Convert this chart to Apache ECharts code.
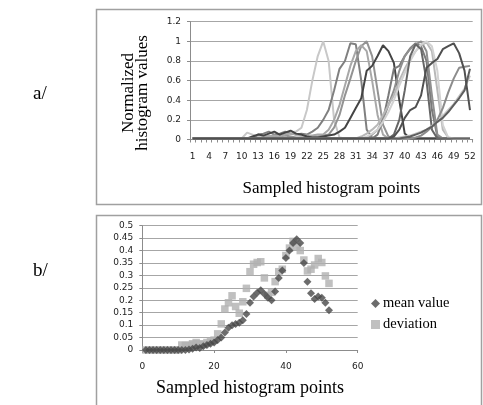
<!DOCTYPE html>
<html>
<head>
<meta charset="utf-8">
<script src="https://cdn.jsdelivr.net/npm/echarts@6/dist/echarts.min.js"></script>
<style>
  html, body { margin: 0; padding: 0; background: #fff; }
  #chart { width: 483px; height: 405px; }
</style>
</head>
<body>
<div id="chart"></div>
<script>
// sampled histogram points (x positions, 1..52)
const samplePoints = [
  1, 2, 3, 4, 5, 6, 7, 8, 9, 10, 11, 12, 13,
  14, 15, 16, 17, 18, 19, 20, 21, 22, 23, 24, 25, 26,
  27, 28, 29, 30, 31, 32, 33, 34, 35, 36, 37, 38, 39,
  40, 41, 42, 43, 44, 45, 46, 47, 48, 49, 50, 51, 52
]
const categories = samplePoints.map(String)

// a/ normalized histograms, one array per histogram
const hist25 = [
  0.01, 0.01, 0.01, 0.01, 0.01, 0.01, 0.01, 0.01, 0.01, 0.01, 0.07, 0.05, 0.03,
  0.03, 0.04, 0.03, 0.04, 0.05, 0.08, 0.08, 0.12, 0.3, 0.6, 0.85, 1.0, 0.8,
  0.2, 0.02, 0.01, 0.01, 0.01, 0.01, 0.01, 0.01, 0.01, 0.01, 0.01, 0.01, 0.01,
  0.01, 0.01, 0.01, 0.01, 0.01, 0.01, 0.01, 0.01, 0.01, 0.01, 0.01, 0.01, 0.01
]
const hist30 = [
  0.01, 0.01, 0.01, 0.01, 0.01, 0.01, 0.01, 0.01, 0.01, 0.01, 0.01, 0.01, 0.05,
  0.06, 0.08, 0.05, 0.06, 0.08, 0.06, 0.05, 0.06, 0.05, 0.08, 0.12, 0.2, 0.3,
  0.5, 0.72, 0.8, 0.98, 0.97, 0.6, 0.1, 0.02, 0.01, 0.01, 0.01, 0.01, 0.01,
  0.01, 0.01, 0.01, 0.01, 0.01, 0.01, 0.01, 0.01, 0.01, 0.01, 0.01, 0.01, 0.01
]
const hist33 = [
  0.01, 0.01, 0.01, 0.01, 0.01, 0.01, 0.01, 0.01, 0.01, 0.01, 0.01, 0.01, 0.01,
  0.02, 0.03, 0.02, 0.03, 0.04, 0.03, 0.02, 0.02, 0.02, 0.03, 0.03, 0.04, 0.05,
  0.12, 0.25, 0.45, 0.62, 0.8, 0.95, 1.0, 0.85, 0.5, 0.15, 0.03, 0.01, 0.01,
  0.01, 0.01, 0.01, 0.01, 0.01, 0.01, 0.01, 0.01, 0.01, 0.01, 0.01, 0.01, 0.01
]
const hist32 = [
  0.01, 0.01, 0.01, 0.01, 0.01, 0.01, 0.01, 0.01, 0.01, 0.01, 0.01, 0.01, 0.01,
  0.02, 0.03, 0.04, 0.03, 0.05, 0.06, 0.05, 0.04, 0.04, 0.04, 0.05, 0.05, 0.1,
  0.2, 0.35, 0.55, 0.75, 0.9, 0.96, 0.9, 0.6, 0.25, 0.05, 0.01, 0.01, 0.01,
  0.01, 0.01, 0.01, 0.01, 0.01, 0.01, 0.01, 0.01, 0.01, 0.01, 0.01, 0.01, 0.01
]
const hist36 = [
  0.01, 0.01, 0.01, 0.01, 0.01, 0.01, 0.01, 0.01, 0.01, 0.01, 0.01, 0.03, 0.05,
  0.04, 0.06, 0.08, 0.05, 0.07, 0.09, 0.06, 0.05, 0.03, 0.02, 0.02, 0.03, 0.04,
  0.05, 0.08, 0.12, 0.22, 0.32, 0.42, 0.7, 0.75, 0.85, 0.96, 0.9, 0.78, 0.4,
  0.06, 0.01, 0.01, 0.01, 0.01, 0.01, 0.01, 0.01, 0.01, 0.01, 0.01, 0.01, 0.01
]
const hist49 = [
  0.01, 0.01, 0.01, 0.01, 0.01, 0.01, 0.01, 0.01, 0.01, 0.01, 0.01, 0.01, 0.01,
  0.01, 0.01, 0.01, 0.01, 0.01, 0.01, 0.01, 0.01, 0.01, 0.01, 0.01, 0.01, 0.01,
  0.01, 0.01, 0.01, 0.01, 0.01, 0.01, 0.01, 0.01, 0.01, 0.01, 0.01, 0.03, 0.1,
  0.22, 0.3, 0.33, 0.45, 0.73, 0.78, 0.82, 0.92, 0.95, 0.98, 0.88, 0.7, 0.3
]
const hist42a = [
  0.01, 0.01, 0.01, 0.01, 0.01, 0.01, 0.01, 0.01, 0.01, 0.01, 0.01, 0.01, 0.01,
  0.01, 0.01, 0.01, 0.01, 0.01, 0.01, 0.01, 0.01, 0.01, 0.01, 0.01, 0.01, 0.01,
  0.01, 0.01, 0.01, 0.01, 0.01, 0.01, 0.01, 0.01, 0.05, 0.2, 0.45, 0.72, 0.75,
  0.85, 0.93, 0.98, 0.95, 0.8, 0.3, 0.03, 0.01, 0.01, 0.01, 0.01, 0.01, 0.01
]
const hist43 = [
  0.01, 0.01, 0.01, 0.01, 0.01, 0.01, 0.01, 0.01, 0.01, 0.01, 0.01, 0.01, 0.01,
  0.01, 0.01, 0.01, 0.01, 0.01, 0.01, 0.01, 0.01, 0.01, 0.01, 0.01, 0.01, 0.01,
  0.01, 0.01, 0.01, 0.01, 0.01, 0.01, 0.01, 0.05, 0.1, 0.2, 0.35, 0.5, 0.7,
  0.85, 0.92, 0.97, 1.0, 0.9, 0.45, 0.05, 0.01, 0.01, 0.01, 0.01, 0.01, 0.01
]
const hist44a = [
  0.01, 0.01, 0.01, 0.01, 0.01, 0.01, 0.01, 0.01, 0.01, 0.01, 0.01, 0.01, 0.01,
  0.01, 0.01, 0.01, 0.01, 0.01, 0.01, 0.01, 0.01, 0.01, 0.01, 0.01, 0.01, 0.01,
  0.01, 0.01, 0.01, 0.01, 0.01, 0.03, 0.06, 0.1, 0.15, 0.25, 0.35, 0.45, 0.6,
  0.72, 0.82, 0.9, 0.96, 0.99, 0.9, 0.5, 0.1, 0.02, 0.01, 0.01, 0.01, 0.01
]
const hist44b = [
  0.01, 0.01, 0.01, 0.01, 0.01, 0.01, 0.01, 0.01, 0.01, 0.01, 0.01, 0.01, 0.01,
  0.01, 0.01, 0.01, 0.01, 0.01, 0.01, 0.01, 0.01, 0.01, 0.01, 0.01, 0.01, 0.01,
  0.01, 0.01, 0.01, 0.01, 0.01, 0.01, 0.03, 0.06, 0.1, 0.18, 0.28, 0.4, 0.55,
  0.68, 0.8, 0.9, 0.97, 1.0, 0.95, 0.7, 0.15, 0.02, 0.01, 0.01, 0.01, 0.01
]
const hist42b = [
  0.01, 0.01, 0.01, 0.01, 0.01, 0.01, 0.01, 0.01, 0.01, 0.01, 0.01, 0.01, 0.01,
  0.01, 0.01, 0.01, 0.01, 0.01, 0.01, 0.01, 0.01, 0.01, 0.01, 0.01, 0.01, 0.01,
  0.01, 0.01, 0.01, 0.01, 0.01, 0.01, 0.01, 0.01, 0.01, 0.01, 0.01, 0.05, 0.2,
  0.5, 0.85, 0.97, 0.92, 0.6, 0.1, 0.01, 0.01, 0.01, 0.01, 0.01, 0.01, 0.01
]
const histTailA = [
  0.01, 0.01, 0.01, 0.01, 0.01, 0.01, 0.01, 0.01, 0.01, 0.01, 0.01, 0.01, 0.01,
  0.01, 0.01, 0.01, 0.01, 0.01, 0.01, 0.01, 0.01, 0.01, 0.01, 0.01, 0.01, 0.01,
  0.01, 0.01, 0.01, 0.01, 0.01, 0.01, 0.01, 0.01, 0.01, 0.01, 0.01, 0.01, 0.01,
  0.01, 0.01, 0.02, 0.04, 0.08, 0.13, 0.2, 0.32, 0.48, 0.62, 0.73, 0.74, 0.75
]
const histTailB = [
  0.01, 0.01, 0.01, 0.01, 0.01, 0.01, 0.01, 0.01, 0.01, 0.01, 0.01, 0.01, 0.01,
  0.01, 0.01, 0.01, 0.01, 0.01, 0.01, 0.01, 0.01, 0.01, 0.01, 0.01, 0.01, 0.01,
  0.01, 0.01, 0.01, 0.01, 0.01, 0.01, 0.01, 0.01, 0.01, 0.01, 0.01, 0.01, 0.02,
  0.03, 0.04, 0.06, 0.08, 0.1, 0.14, 0.18, 0.24, 0.3, 0.36, 0.44, 0.52, 0.65
]
const histTailC = [
  0.01, 0.01, 0.01, 0.01, 0.01, 0.01, 0.01, 0.01, 0.01, 0.01, 0.01, 0.01, 0.01,
  0.01, 0.01, 0.01, 0.01, 0.01, 0.01, 0.01, 0.01, 0.01, 0.01, 0.01, 0.01, 0.01,
  0.01, 0.01, 0.01, 0.01, 0.01, 0.01, 0.01, 0.01, 0.01, 0.01, 0.01, 0.01, 0.01,
  0.02, 0.03, 0.05, 0.07, 0.1, 0.13, 0.18, 0.22, 0.28, 0.35, 0.42, 0.5, 0.72
]

// b/ statistics over the histograms
const meanValue = [
  0, 0, 0, 0, 0, 0, 0, 0, 0, 0, 0, 0, 0.002,
  0.005, 0.01, 0.008, 0.015, 0.02, 0.025, 0.03, 0.04, 0.05, 0.07, 0.09, 0.1, 0.105,
  0.11, 0.12, 0.145, 0.19, 0.215, 0.23, 0.24, 0.225, 0.21, 0.2, 0.235, 0.29, 0.32,
  0.37, 0.4, 0.43, 0.445, 0.43, 0.35, 0.275, 0.228, 0.205, 0.215, 0.21, 0.19, 0.16
]
const deviation = [
  0, 0, 0, 0, 0, 0, 0, 0, 0, 0, 0.02, 0.018, 0.02,
  0.025, 0.03, 0.025, 0.022, 0.03, 0.035, 0.04, 0.065, 0.105, 0.165, 0.19, 0.218, 0.175,
  0.148, 0.194, 0.248, 0.315, 0.345, 0.352, 0.355, 0.29, 0.22, 0.232, 0.275, 0.315, 0.325,
  0.38, 0.41, 0.437, 0.415, 0.4, 0.362, 0.318, 0.325, 0.342, 0.368, 0.352, 0.298, 0.268
]

const histograms = [
  hist25, hist30, hist33, hist32, hist36, hist42a, hist43,
  hist44a, hist44b, hist42b, histTailA, histTailB, histTailC, hist49
]
const histColors = [
  '#c8c8c8', '#808080', '#939393', '#a8a8a8', '#444444', '#7a7a7a', '#8f8f8f',
  '#b8b8b8', '#d2d2d2', '#666666', '#8c8c8c', '#c4c4c4', '#5e5e5e', '#505050'
]

const serif = 'Liberation Serif'
const sans = 'DejaVu Sans'
const axisGray = '#8c8c8c'
const gridGray = '#a6a6a6'

const chart = echarts.init(document.getElementById('chart'))

chart.setOption({
  animation: false,
  backgroundColor: '#fff',
  graphic: [
    { type: 'rect', shape: { x: 96.5, y: 9.5, width: 385, height: 195 }, style: { fill: 'none', stroke: '#a0a0a0', lineWidth: 1.5 } },
    { type: 'rect', shape: { x: 96.5, y: 215.5, width: 385, height: 200 }, style: { fill: 'none', stroke: '#a0a0a0', lineWidth: 1.5 } },
    { type: 'text', left: 33, top: 85, style: { text: 'a/', font: '19px "Liberation Serif"', fill: '#000' } },
    { type: 'text', left: 33, top: 262, style: { text: 'b/', font: '19px "Liberation Serif"', fill: '#000' } },
    {
      type: 'text',
      x: 136,
      y: 93,
      rotation: Math.PI / 2,
      style: {
        text: 'Normalized\nhistogram values',
        font: '17px "Liberation Serif"',
        lineHeight: 14,
        align: 'center',
        verticalAlign: 'middle',
        fill: '#000',
      },
    },
  ],
  grid: [
    { left: 190, top: 21.7, width: 282.7, height: 117.8 },
    { left: 142.3, top: 225.7, width: 215.4, height: 124.3 },
  ],
  legend: {
    data: ['mean value', 'deviation'],
    orient: 'vertical',
    left: 371,
    top: 296,
    padding: 0,
    itemGap: 6,
    itemWidth: 9,
    itemHeight: 9,
    textStyle: { fontFamily: serif, fontSize: 14.5, color: '#000', padding: [0, 0, 0, -2] },
  },
  xAxis: [
    {
      gridIndex: 0,
      type: 'category',
      data: categories,
      boundaryGap: true,
      axisLine: { lineStyle: { color: axisGray } },
      axisTick: { show: true, interval: 0, length: 3, lineStyle: { color: axisGray } },
      axisLabel: { interval: 2, fontFamily: sans, fontSize: 9, color: '#222', margin: 13 },
      name: 'Sampled histogram points',
      nameLocation: 'middle',
      nameGap: 41,
      nameTextStyle: { fontFamily: serif, fontSize: 17, color: '#000' },
    },
    {
      gridIndex: 1,
      type: 'value',
      min: 0,
      max: 60,
      interval: 20,
      splitLine: { show: false },
      axisLine: { lineStyle: { color: axisGray } },
      axisTick: { show: true, length: 3, lineStyle: { color: axisGray } },
      axisLabel: { fontFamily: sans, fontSize: 9, color: '#222', margin: 12 },
      name: 'Sampled histogram points',
      nameLocation: 'middle',
      nameGap: 29,
      nameTextStyle: { fontFamily: serif, fontSize: 18, color: '#000' },
    },
  ],
  yAxis: [
    {
      gridIndex: 0,
      type: 'value',
      min: 0,
      max: 1.2,
      interval: 0.2,
      axisLine: { show: true, lineStyle: { color: axisGray } },
      axisTick: { show: true, length: 3, lineStyle: { color: axisGray } },
      splitLine: { lineStyle: { color: gridGray } },
      axisLabel: { fontFamily: sans, fontSize: 9, color: '#222', margin: 9 },
    },
    {
      gridIndex: 1,
      type: 'value',
      min: 0,
      max: 0.5,
      interval: 0.05,
      axisLine: { show: true, lineStyle: { color: axisGray } },
      axisTick: { show: true, length: 3, lineStyle: { color: axisGray } },
      splitLine: { lineStyle: { color: gridGray } },
      axisLabel: { fontFamily: sans, fontSize: 9, color: '#222', margin: 9 },
    },
  ],
  series: [
    ...histograms.map((values, i) => ({
      name: 'histogram ' + (i + 1),
      type: 'line',
      xAxisIndex: 0,
      yAxisIndex: 0,
      data: values,
      symbol: 'none',
      lineStyle: { width: 2, color: histColors[i] },
      itemStyle: { color: histColors[i] },
    })),
    {
      name: 'deviation',
      type: 'scatter',
      xAxisIndex: 1,
      yAxisIndex: 1,
      symbol: 'rect',
      symbolSize: 7.5,
      itemStyle: { color: '#b0b0b0' },
      data: samplePoints.map((x, i) => [x, deviation[i]]),
    },
    {
      name: 'mean value',
      type: 'scatter',
      xAxisIndex: 1,
      yAxisIndex: 1,
      symbol: 'diamond',
      symbolSize: 8,
      itemStyle: { color: '#474747' },
      data: samplePoints.map((x, i) => [x, meanValue[i]]),
    },
  ],
})
</script>
</body>
</html>
